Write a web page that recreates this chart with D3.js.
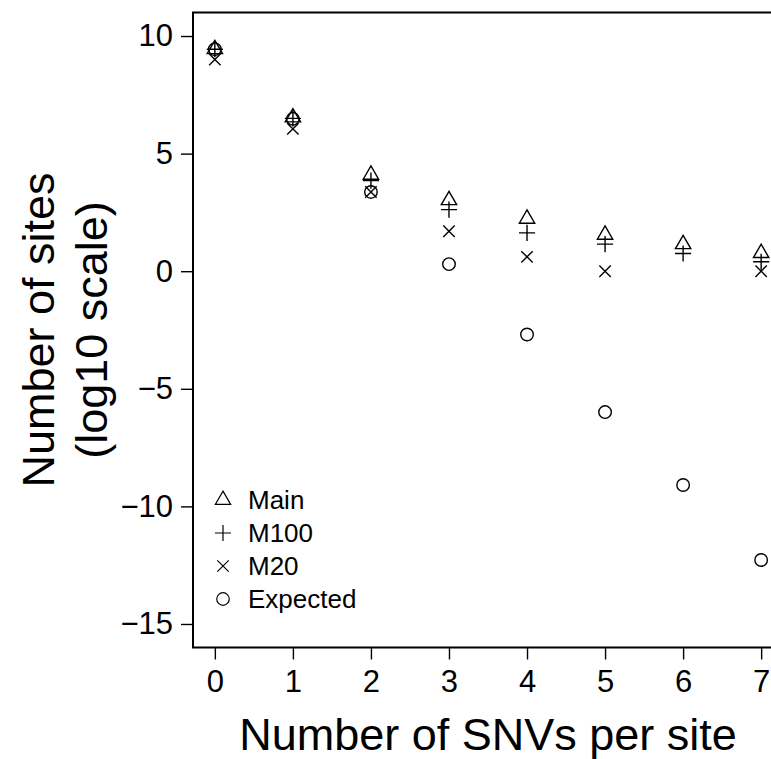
<!DOCTYPE html>
<html>
<head>
<meta charset="utf-8">
<script src="https://cdn.jsdelivr.net/npm/d3@7"></script>
<style>
  body { margin: 0; background: #fff; }
  svg { display: block; font-family: "Liberation Sans", Arial, sans-serif; }
</style>
</head>
<body>
<div id="chart-area"></div>
<script>
// number of SNVs per site
var snvs = [0, 1, 2, 3, 4, 5, 6, 7]
// log10 counts per series (null = no sites)
var mainVals = [9.44, 6.54, 4.1, 3.02, 2.23, 1.55, 1.15, 0.77]
var m100Vals = [9.44, 6.5, 3.85, 2.62, 1.63, 1.15, 0.75, 0.4]
var m20Vals = [9.0, 6.05, 3.37, 1.7, 0.61, 0.0, null, 0.0]
var expectedVals = [9.44, 6.48, 3.37, 0.3, -2.69, -5.99, -9.09, -12.28]
var yTicks = [10, 5, 0, -5, -10, -15]
var legendNames = ["Main", "M100", "M20", "Expected"]

var W = 771, H = 759
var svg = d3.select("#chart-area").append("svg")
    .attr("width", W)
    .attr("height", H)

// R style 4% padding on limits
var x = d3.scaleLinear().domain([-0.28, 7.28]).range([193, 783])
var y = d3.scaleLinear().domain([-16, 11]).range([647.5, 12.5])

var sz = 5.7 // base symbol size
var lw = 1.4

// symbol path makers
function triPath(cx, cy) {
    var r = 1.555 * sz, xc = 1.347 * sz, yc = 0.778 * sz
    return "M" + cx + "," + (cy - r) + "L" + (cx + xc) + "," + (cy + yc) + "L" + (cx - xc) + "," + (cy + yc) + "Z"
}
function plusPath(cx, cy) {
    var a = 1.414 * sz
    return "M" + (cx - a) + "," + cy + "H" + (cx + a) + "M" + cx + "," + (cy - a) + "V" + (cy + a)
}
function crossPath(cx, cy) {
    var a = sz
    return "M" + (cx - a) + "," + (cy - a) + "L" + (cx + a) + "," + (cy + a) + "M" + (cx - a) + "," + (cy + a) + "L" + (cx + a) + "," + (cy - a)
}
function circPath(cx, cy) {
    var r = sz * 1.1
    return "M" + (cx - r) + "," + cy + "a" + r + "," + r + " 0 1,0 " + (2 * r) + ",0a" + r + "," + r + " 0 1,0 " + (-2 * r) + ",0"
}

var series = [
    {vals: mainVals, shape: triPath},
    {vals: m100Vals, shape: plusPath},
    {vals: m20Vals, shape: crossPath},
    {vals: expectedVals, shape: circPath}
]

series.forEach(function(s) {
    var pts = snvs.map(function(d, i) { return {x: d, y: s.vals[i]} })
        .filter(function(d) { return d.y !== null })
    svg.append("g").selectAll("path")
        .data(pts)
        .enter()
        .append("path")
        .attr("d", function(d) { return s.shape(x(d.x), y(d.y)) })
        .attr("fill", "none")
        .attr("stroke", "#000")
        .attr("stroke-width", lw)
})

// box
svg.append("rect")
    .attr("x", x(-0.28))
    .attr("y", y(11))
    .attr("width", x(7.28) - x(-0.28))
    .attr("height", y(-16) - y(11))
    .attr("fill", "none")
    .attr("stroke", "#000")
    .attr("stroke-width", 2)

// axes
var xAxis = d3.axisBottom(x).tickValues(snvs).tickSize(12).tickPadding(10).tickFormat(d3.format("d"))
var gx = svg.append("g").attr("transform", "translate(0," + y(-16) + ")").call(xAxis)
gx.select(".domain").remove()

var yAxis = d3.axisLeft(y).tickValues(yTicks).tickSize(12).tickPadding(8)
    .tickFormat(function(d) { return d < 0 ? "\u2212" + Math.abs(d) : d })
var gy = svg.append("g").attr("transform", "translate(" + x(-0.28) + ",0)").call(yAxis)
gy.select(".domain").remove()

svg.selectAll(".tick line").attr("stroke", "#000").attr("stroke-width", 1.4)
svg.selectAll(".tick text").attr("fill", "#000")
    .style("font-size", "31px")
    .style("font-family", "'Liberation Sans', Arial, sans-serif")

// axis titles
svg.append("text")
    .attr("x", 488)
    .attr("y", 750)
    .attr("text-anchor", "middle")
    .style("font-size", "45px")
    .text("Number of SNVs per site")

var yt = svg.append("text")
    .attr("transform", "translate(0,330) rotate(-90)")
    .attr("text-anchor", "middle")
    .style("font-size", "45px")
yt.append("tspan").attr("x", 0).attr("y", 54).text("Number of sites")
yt.append("tspan").attr("x", 0).attr("y", 107).text("(log10 scale)")

// legend
var legShapes = [triPath, plusPath, crossPath, circPath]
var leg = svg.append("g")
legendNames.forEach(function(name, i) {
    var ly = 500 + i * 33
    leg.append("path")
        .attr("d", legShapes[i](223, ly))
        .attr("fill", "none")
        .attr("stroke", "#000")
        .attr("stroke-width", 1.2)
    leg.append("text")
        .attr("x", 248)
        .attr("y", ly + 9)
        .style("font-size", "26px")
        .text(name)
})
</script>
</body>
</html>
